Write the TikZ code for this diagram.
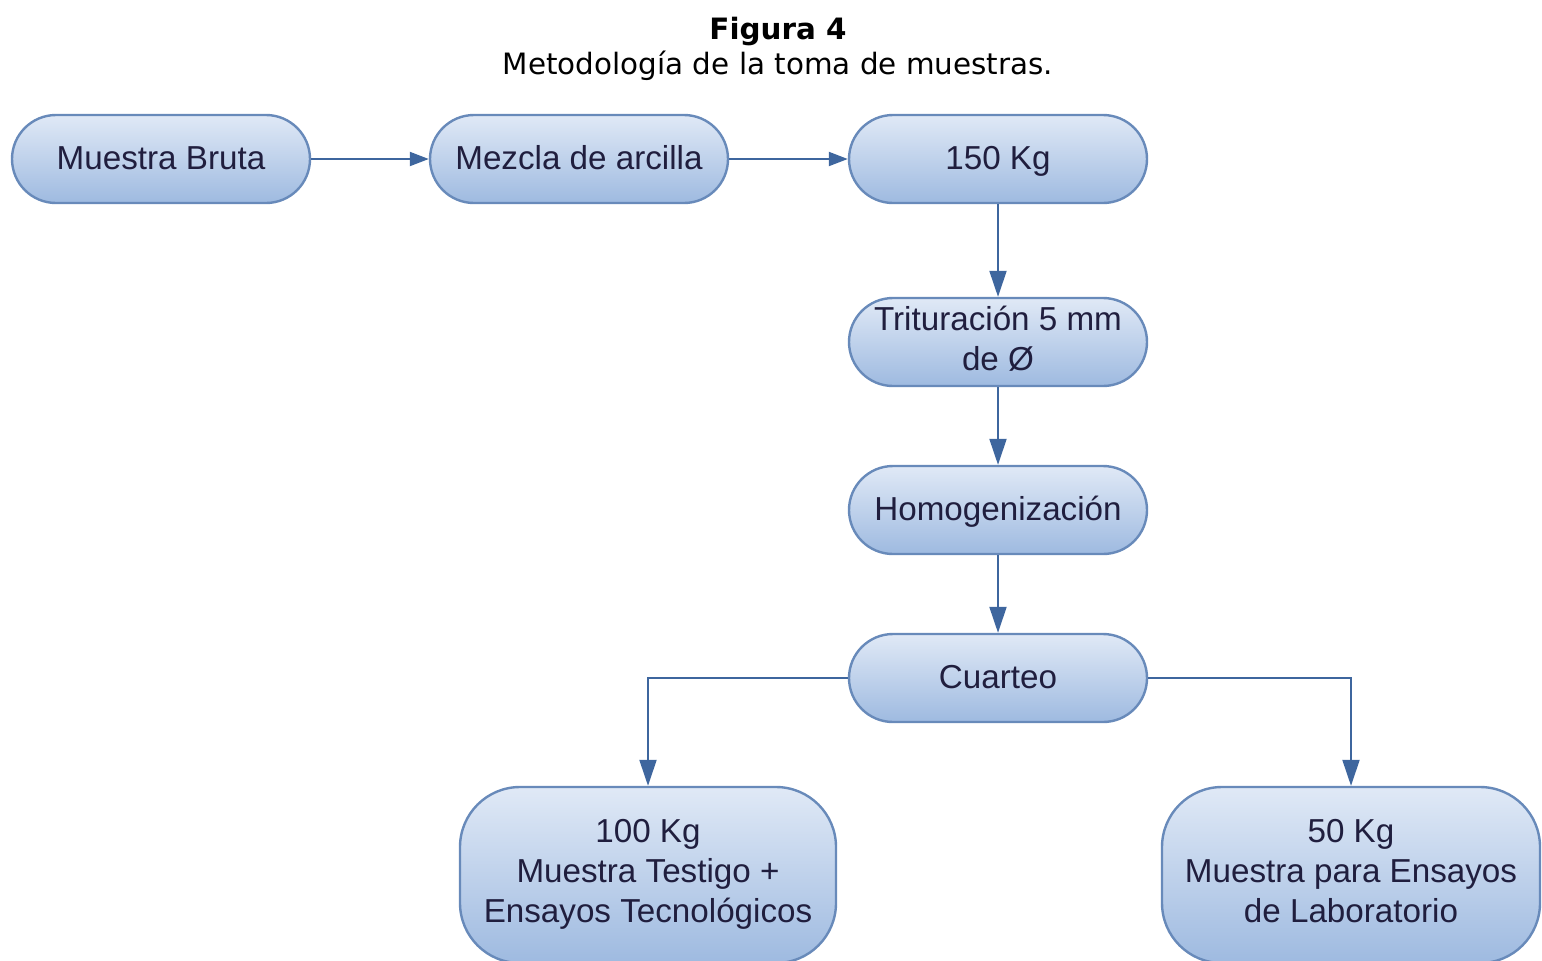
\documentclass[tikz,border=0pt]{standalone}
\usepackage{fontspec}
\setmainfont{Liberation Sans}
\newfontfamily\captionfont{DejaVu Sans}
\usetikzlibrary{arrows.meta}

\definecolor{boxline}{RGB}{104,138,186}
\definecolor{boxtop}{RGB}{224,233,246}
\definecolor{boxbottom}{RGB}{158,186,224}
\definecolor{linkcolor}{RGB}{62,102,158}
\definecolor{boxtext}{RGB}{32,30,62}

\newcommand{\boxstrut}{\rule[-4pt]{0pt}{18pt}}

\tikzset{every picture/.style={line width=0.75pt}}
\tikzset{
  flowbox/.style={draw=boxline, line width=1.2pt, rounded corners=22pt,
    top color=boxtop, bottom color=boxbottom, text=boxtext,
    minimum width=149pt, minimum height=44pt, inner sep=0pt,
    font=\fontsize{16.6}{20}\selectfont, align=center,
    execute at begin node=\boxstrut, execute at end node=\boxstrut},
  bigbox/.style={flowbox, rounded corners=30pt, minimum width=188pt, minimum height=88pt},
  link/.style={draw=linkcolor, line width=1pt, -{Triangle[length=13pt,width=8.5pt]}},
  sidelink/.style={link, -{Triangle[length=9.5pt,width=7pt]}}
}

\begin{document}
\begin{tikzpicture}[x=0.5pt,y=0.5pt,yscale=-1,xscale=1]
\useasboundingbox (0,0) rectangle (1542,960);

% Caption
\node (title) at (778,31) {\captionfont\fontsize{14.7}{17}\selectfont\bfseries Figura 4};
\node (subtitle) at (778,66) {\captionfont\fontsize{14.7}{17}\selectfont Metodología de la toma de muestras.};

% Top row
\node [flowbox] (bruta) at (161,159) {Muestra Bruta};
\node [flowbox] (mezcla) at (579,159) {Mezcla de arcilla};
\node [flowbox] (kg150) at (998,159) {150 Kg};

% Column
\node [flowbox] (tritura) at (998,342) {Trituración 5 mm\\de Ø};
\node [flowbox] (homog) at (998,510) {Homogenización};
\node [flowbox] (cuarteo) at (998,678) {Cuarteo};

% Bottom row
\node [bigbox] (kg100) at (648,875) {100 Kg\\Muestra Testigo +\\Ensayos Tecnológicos};
\node [bigbox, minimum width=189pt] (kg50) at (1351,875) {50 Kg\\Muestra para Ensayos\\de Laboratorio};

% Connectors
\draw [sidelink] (bruta) -- (mezcla);
\draw [sidelink] (mezcla) -- (kg150);
\draw [link] (kg150) -- (tritura);
\draw [link] (tritura) -- (homog);
\draw [link] (homog) -- (cuarteo);
\draw [link] (cuarteo.west) -| (kg100.north);
\draw [link] (cuarteo.east) -| (kg50.north);

\end{tikzpicture}
\end{document}
